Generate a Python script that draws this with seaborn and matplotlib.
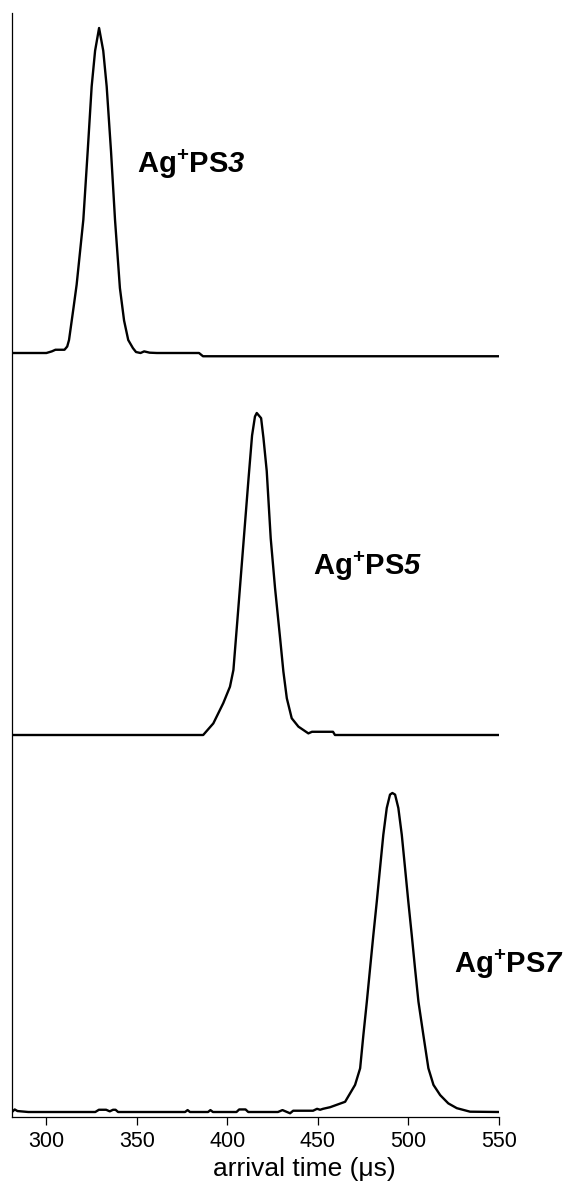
import numpy as np
import pandas as pd
import matplotlib
matplotlib.use("Agg")
import matplotlib.pyplot as plt
import seaborn as sns

# ===============================
# Data, intensity in % of peak
# ===============================
t_ps3 = [281, 300, 303, 305, 310, 311.5, 312.5, 313.5, 315, 316.7, 320.4, 322.8,
         325.0, 326.9, 329.1, 331.4, 333.3, 335.7, 337.9, 340.6, 342.9, 345.2,
         347.8, 349.5, 352, 354, 357, 361, 384.3, 386.5, 550]
i_ps3 = [0, 0, 0.5, 1, 1, 2, 4, 8, 14, 21, 41, 62,
         82, 93, 100, 93, 82, 62, 41, 20, 10, 4,
         1.5, 0.3, 0, 0.5, 0.1, 0, 0, -1, -1]

t_ps5 = [281, 386.6, 392.2, 397.7, 401.4, 403.3, 405.4, 407.5, 409.6, 411.7,
         413.6, 415.2, 416.2, 418.6, 419.9, 421.7, 423.9, 426.3, 429.1, 430.9,
         432.8, 435.5, 439.2, 444.7, 446.7, 458.3, 459.4, 550]
i_ps5 = [0, 0, 3.6, 9.9, 15, 20.2, 35, 50, 65, 80,
         93, 98.9, 100, 98.4, 92.2, 82, 61.1, 45.6, 30, 19.7,
         11.4, 5.2, 2.6, 0.5, 1, 1, 0, 0]

t_ps7 = [281, 282.5, 284, 290, 327, 329, 333, 335, 336.8, 338.2, 339.6,
         376.6, 378, 379.3, 389.3, 390.6, 392, 405, 406.5, 410, 411.5,
         427.9, 430.4, 432.9, 434.6, 436.3, 447.3, 449.5, 451.2, 452.8, 456.7,
         465.0, 470.5, 473.3, 475.1, 477.0, 478.8, 480.6, 482.5, 484.3, 486.1,
         488.0, 489.8, 491.1, 492.6, 494.4, 496.3, 498.1, 499.9, 501.8, 503.6,
         505.5, 508.2, 511.0, 513.8, 517.5, 522.0, 526.7, 534.0, 550]
i_ps7 = [0, 0.8, 0.3, 0, 0, 0.7, 0.7, 0.2, 0.7, 0.7, 0,
         0, 0.6, 0, 0, 0.6, 0, 0, 0.8, 0.8, 0,
         0, 0.6, 0, -0.4, 0.4, 0.4, 1, 0.7, 1, 1.5,
         3.2, 8.5, 13.7, 24.2, 34.6, 45.1, 55.5, 66, 76.5, 86.9,
         95.3, 99.5, 100, 99.5, 95.3, 86.9, 76.5, 66, 55.5, 45.1,
         34.6, 24.2, 13.7, 8.5, 5.3, 2.7, 1.2, 0.1, 0]

labels = [r"$\mathrm{Ag^{+}PS}\mathsf{3}$",
          r"$\mathrm{Ag^{+}PS}\mathsf{5}$",
          r"$\mathrm{Ag^{+}PS}\mathsf{7}$"]
label_x = [350, 447.5, 525]
xticks = [300, 350, 400, 450, 500, 550]

# vertical stacking of the traces
offsets = [764, 382, 5]
heights = [325, 322, 319]
label_y = [944, 542, 144]

# ===============================
# Style
# ===============================
sns.set_style("ticks")
plt.rcParams['font.family'] = ['Liberation Sans', 'DejaVu Sans']
plt.rcParams['mathtext.fontset'] = 'custom'
plt.rcParams['mathtext.rm'] = 'Liberation Sans:bold'
plt.rcParams['mathtext.it'] = 'Liberation Sans:bold:italic'
plt.rcParams['mathtext.bf'] = 'Liberation Sans:bold'
plt.rcParams['mathtext.sf'] = 'Liberation Sans:bold:italic'

fig = plt.figure(figsize=(5.69, 11.85), dpi=100)
ax = fig.add_axes([12/569, 68/1185, 487/569, 1104/1185])

traces = [(t_ps3, i_ps3), (t_ps5, i_ps5), (t_ps7, i_ps7)]
for (t, inten), off, h in zip(traces, offsets, heights):
    df = pd.DataFrame({'t': t, 'y': off + np.array(inten) * h / 100.0})
    sns.lineplot(data=df, x='t', y='y', ax=ax, color='black', lw=1.7,
                 sort=False, estimator=None)

for txt, x, y in zip(labels, label_x, label_y):
    ax.text(x, y, txt, fontsize=21, ha='left', va='baseline', color='black')

ax.set_xlim(281, 550)
ax.set_ylim(0, 1104)
ax.set_xticks(xticks)
ax.set_yticks([])
ax.set_ylabel("")
ax.set_xlabel("arrival time (\u03bcs)", fontsize=19, color='black')
ax.xaxis.set_label_coords(0.6, -0.036)
ax.tick_params(axis='x', direction='out', length=6, width=0.9, labelsize=15.5, pad=4,
               color='black', labelcolor='black')
for s in ['top', 'right']:
    ax.spines[s].set_visible(False)
for s in ['left', 'bottom']:
    ax.spines[s].set_linewidth(0.9)
    ax.spines[s].set_color('black')

fig.savefig("out.png", dpi=100)
